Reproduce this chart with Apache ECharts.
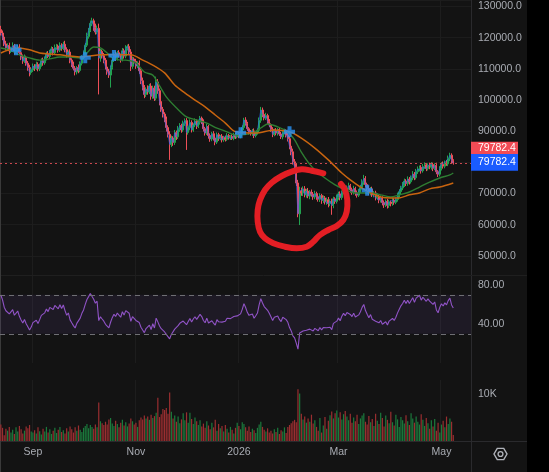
<!DOCTYPE html>
<html>
<head>
<meta charset="utf-8">
<script src="https://cdn.jsdelivr.net/npm/echarts@6/dist/echarts.min.js"></script>
<style>
  html, body { margin: 0; padding: 0; background: #000; }
  #chart { width: 527px; height: 472px; background: #131313; }
</style>
</head>
<body>
<div id="chart"></div>
<script>
// daily candles, prices in thousands, first day = 2025-08-13
const firstOpen = 122.6;
const closes = [
  121.5,120.2,118.0,116.8,117.5,115.8,116.6,117.4,115.5,116.2,117.0,115.2,113.8,112.5,113.6,111.8,110.4,108.8,109.6,110.9,
  110.2,111.4,110.0,111.2,112.6,111.9,113.4,114.8,114.0,115.6,116.4,115.2,116.8,117.3,116.0,117.6,116.5,117.9,116.2,114.6,
  115.4,112.8,111.5,110.2,109.0,110.4,109.5,111.8,113.6,115.0,117.6,120.4,122.3,124.6,125.4,123.2,121.8,123.0,113.5,115.6,
  114.2,112.8,110.6,109.2,108.0,110.5,112.8,114.6,113.4,115.2,114.4,113.0,115.8,114.1,116.5,117.2,115.4,110.8,113.2,112.4,
  110.9,111.8,109.4,106.2,104.0,101.8,103.5,102.6,104.5,101.2,103.8,100.6,105.8,103.0,99.5,97.0,95.5,93.8,91.2,89.0,
  85.8,87.8,86.4,89.5,88.2,90.6,91.8,90.4,92.5,93.4,89.6,91.2,92.8,90.4,92.0,93.2,91.6,92.9,94.2,93.0,
  90.8,89.4,91.5,88.6,87.5,89.2,87.8,86.5,88.9,87.6,88.4,87.2,88.0,87.4,88.6,87.9,88.3,87.7,88.9,88.2,
  89.0,88.4,89.6,91.2,93.6,92.4,90.8,89.7,89.2,90.1,88.6,89.4,90.3,93.5,96.8,95.4,94.2,95.0,93.1,92.0,
  90.6,89.0,90.2,89.4,90.5,89.1,88.2,89.6,90.0,88.7,87.6,85.2,83.4,80.2,78.6,73.4,63.5,70.8,70.2,71.5,
  69.6,70.8,69.2,70.5,69.8,68.9,70.0,69.0,68.2,69.4,67.8,68.6,67.4,68.0,66.8,67.6,66.2,68.3,67.5,68.8,
  69.9,68.7,70.4,71.5,70.6,71.8,72.5,71.2,70.4,71.6,70.2,69.5,70.8,71.9,73.6,74.8,72.9,71.6,70.3,71.4,
  69.6,70.2,68.7,69.2,67.9,68.6,67.1,66.4,67.5,66.2,67.3,66.8,67.9,67.2,68.1,69.4,70.6,71.8,72.7,74.0,
  73.2,74.6,73.8,75.0,76.2,75.1,77.0,77.9,78.4,77.3,78.6,79.2,78.0,79.0,78.5,79.3,78.1,79.0,77.0,76.2,
  78.0,79.4,78.8,80.0,79.5,81.2,82.3,80.6,79.7824
];
// wick above the body / below the body, thousands
const upperWick = [
  1.2,0.8,0.6,1.0,0.7,0.9,0.5,1.1,0.6,0.8,0.7,0.9,0.5,0.8,1.0,0.6,0.7,0.9,0.5,0.8,
  0.6,0.9,0.7,0.5,0.8,1.0,0.6,0.7,0.9,0.5,0.8,0.6,1.0,0.7,0.5,0.9,0.6,0.8,1.1,0.7,
  0.5,0.9,0.6,0.8,0.7,0.5,1.0,0.6,0.8,0.9,0.7,1.2,0.8,0.9,1.0,0.7,1.3,0.9,1.5,0.8,
  0.6,0.9,0.7,0.5,0.8,0.6,0.9,0.7,1.0,0.6,0.8,0.5,0.9,0.7,1.1,0.6,0.8,0.9,0.7,0.5,
  0.8,0.6,0.9,0.7,1.0,0.8,0.6,1.2,0.7,0.9,0.8,0.8,1.7,0.9,0.7,1.0,0.8,0.6,0.9,0.7,
  1.0,0.8,0.6,0.9,0.7,1.1,0.8,0.6,0.9,0.7,0.8,0.6,1.0,0.7,0.5,0.9,0.6,0.8,0.7,0.5,
  0.8,0.6,0.9,0.5,0.7,0.6,0.8,0.5,0.7,0.6,0.4,0.7,0.5,0.6,0.8,0.5,0.4,0.7,0.6,0.5,
  0.6,0.8,0.5,0.7,0.7,0.9,0.6,0.5,0.7,0.6,0.8,0.5,0.6,0.9,1.0,0.8,0.7,0.9,0.6,0.8,
  0.5,0.7,0.6,0.8,0.5,0.6,0.7,0.5,0.8,0.6,0.7,0.9,0.8,1.0,0.9,1.2,1.0,1.4,1.1,0.8,
  0.9,0.7,1.0,0.6,0.8,0.7,0.9,0.6,0.8,0.7,0.5,0.8,0.6,0.7,0.9,0.6,0.8,0.7,0.5,0.9,
  0.7,0.8,0.6,0.9,0.7,0.8,1.0,0.6,0.7,0.9,0.6,0.8,0.7,0.9,1.0,1.2,0.8,0.6,0.9,0.7,
  0.8,0.6,0.7,0.9,0.6,0.8,0.5,0.7,0.6,0.8,0.7,0.5,0.8,0.6,0.7,0.9,0.8,0.7,1.0,0.8,
  0.6,0.9,0.7,0.8,1.0,0.7,0.9,0.8,0.6,0.7,0.9,0.8,0.6,0.7,0.9,0.8,0.6,0.7,0.9,0.5,
  0.8,0.7,0.9,0.6,0.8,1.0,0.8,0.6,0.4
];
const lowerWick = [
  0.8,1.0,0.7,0.9,0.6,1.1,0.7,0.5,0.9,0.6,0.8,0.7,1.0,0.9,0.6,0.8,1.0,1.2,0.7,0.6,
  0.9,0.6,0.8,0.7,0.5,0.9,0.6,0.7,0.5,0.8,0.6,0.9,0.5,0.7,0.8,0.6,0.7,0.5,0.9,1.0,
  0.8,1.0,0.9,0.7,1.1,0.8,0.9,0.6,0.7,0.5,0.8,0.6,0.7,0.5,0.9,1.0,0.8,0.7,11.7,1.2,
  0.9,1.0,0.8,1.1,0.9,4.0,0.7,0.6,0.9,0.7,0.8,1.0,0.6,0.8,0.7,0.6,0.9,1.5,0.8,0.7,
  0.9,0.7,1.0,1.1,0.9,1.2,0.8,0.9,0.7,1.1,0.8,0.9,0.7,1.0,1.2,0.8,1.1,0.9,1.3,1.0,
  5.0,0.9,1.1,0.8,1.0,0.7,0.8,0.9,0.6,0.8,5.6,0.7,0.9,0.8,0.6,0.7,0.9,0.6,0.8,0.7,
  0.9,0.8,0.6,1.0,0.9,0.7,0.8,1.0,0.6,0.7,0.5,0.8,0.6,0.7,0.5,0.6,0.7,0.5,0.6,0.7,
  0.5,0.6,0.7,0.5,0.8,0.6,0.7,0.8,0.6,0.7,0.8,0.6,0.5,0.7,0.8,0.9,0.7,0.6,0.8,0.7,
  0.8,0.9,0.6,0.7,0.8,0.6,0.7,0.8,0.6,0.7,0.9,1.0,1.1,0.9,1.2,1.0,1.1,3.6,0.9,1.0,
  0.8,0.9,0.7,1.0,0.8,0.9,0.7,1.0,0.8,0.9,1.1,0.8,0.9,1.0,1.2,0.8,3.0,0.9,0.8,0.7,
  0.8,0.9,0.7,0.6,0.8,0.7,0.6,0.9,0.8,0.7,0.9,0.8,0.6,0.7,0.6,0.8,0.9,0.7,0.8,0.9,
  0.7,0.8,0.9,0.7,1.0,0.8,0.9,1.0,0.7,1.0,0.8,0.9,0.7,0.8,0.6,0.7,0.6,0.8,0.7,0.6,
  0.8,0.7,0.9,0.6,0.7,0.8,0.6,0.7,0.8,0.9,0.6,0.7,0.8,0.6,0.7,0.8,0.9,0.6,0.8,0.9,
  0.7,0.6,0.8,0.7,0.6,0.7,0.8,0.9,0.5
];
// volume in K
const volumes = [
  3.5,2.8,1.2,2.6,2.2,3.0,1.8,2.4,1.5,2.9,2.0,3.2,2.5,1.6,2.2,3.1,2.7,3.4,2.0,1.8,
  2.3,1.6,2.9,2.1,1.4,2.6,2.0,3.0,1.8,2.5,1.5,2.2,2.8,1.7,2.4,3.0,1.9,2.3,1.6,2.7,
  2.0,3.1,2.5,1.8,2.9,2.2,3.3,2.4,1.9,2.8,3.2,3.6,2.7,3.4,3.0,2.6,3.5,2.9,8.2,4.2,
  3.8,3.4,4.1,3.5,4.6,4.9,3.7,3.2,4.3,3.6,2.9,3.9,4.5,3.3,4.0,3.1,3.7,4.8,4.2,3.5,
  3.9,3.0,4.4,5.0,4.6,5.4,4.8,5.2,4.5,5.6,4.9,5.3,6.0,9.2,5.1,5.7,6.8,6.6,7.0,5.8,
  10.3,6.2,4.8,5.4,4.1,5.2,3.8,4.6,5.9,4.4,6.1,3.9,6.0,4.7,3.6,5.0,4.2,3.4,4.4,3.1,
  3.7,2.8,4.2,3.3,2.5,3.9,2.9,4.5,2.2,3.6,2.7,3.2,2.0,3.4,2.6,1.8,3.0,2.4,1.6,2.8,
  3.9,3.2,2.5,4.0,3.6,2.9,2.2,3.1,1.9,2.6,2.3,1.7,2.8,3.5,4.1,3.0,2.4,2.0,2.7,1.8,
  2.2,1.6,2.5,1.9,2.8,1.5,2.3,2.0,2.9,1.7,3.0,3.4,3.8,4.2,4.5,4.0,11.0,10.1,5.8,4.6,
  5.2,3.9,4.8,4.1,5.6,3.7,4.4,3.0,2.2,4.9,1.8,3.3,5.1,2.6,4.3,5.5,6.3,4.8,5.9,6.5,
  5.0,6.1,4.6,5.7,6.4,5.2,4.4,5.8,3.9,5.0,4.2,5.6,3.6,4.8,5.4,5.9,4.1,3.5,5.3,4.0,
  4.7,3.2,5.8,4.3,3.6,6.0,4.9,3.1,5.4,4.5,3.8,6.2,4.0,3.3,5.6,4.6,3.0,5.1,4.4,3.7,
  5.5,4.2,3.4,5.9,4.8,3.9,5.2,4.1,3.5,5.7,4.5,3.2,4.9,3.8,2.6,4.4,3.1,4.7,2.2,3.9,
  1.8,3.5,4.3,2.9,5.2,3.6,4.8,4.1,1.3
];
// moving averages (day index, thousands)
const greenIdx = [0,5,11,17,23,29,35,41,47,51,55,59,63,66,71,74,80,85,90,93,98,104,110,116,122,128,134,139,149,155,
  158,164,170,174,178,182,186,192,198,204,210,219,225,231,236,242,248,254,260,266,268];
const greenVal = [116.7,116.1,114.5,113.5,112.8,113.2,113.8,113.8,113.5,115.1,117.0,116.7,115.1,113.5,112.8,112.8,111.9,109.0,108.0,105.5,
  101.0,97.5,94.6,93.6,92.6,91.0,89.8,88.8,89.4,91.4,92.3,91.4,89.8,87.2,83.3,80.1,77.6,75.0,72.8,71.2,
  70.2,70.2,69.6,68.9,69.6,70.5,72.1,73.7,75.0,76.0,76.6];
const orangeIdx = [0,5,11,17,23,29,35,41,47,53,59,65,71,77,84,90,97,103,109,115,121,127,133,139,151,162,171,178,186,194,
  202,207,213,219,225,231,236,242,248,254,260,268];
const orangeVal = [115.1,116.1,116.7,116.1,115.1,114.8,114.5,114.1,113.8,114.1,114.5,114.5,114.5,114.5,112.8,111.2,108.7,104.8,102.3,100.0,
  97.8,95.2,92.6,89.8,89.4,90.4,89.8,87.8,84.6,80.8,76.6,74.4,72.1,70.2,68.9,68.6,68.6,69.6,70.2,71.5,72.1,73.4];
// blue cross signals
const crossIdx = [9, 50, 67, 142, 171, 217];
const crossVal = [116.1, 113.6, 114.3, 89.5, 89.8, 71.1];
// RSI(14) starting state
const rsiSeedGain = 0.9, rsiSeedLoss = 0.39;

const tickDates = ['2025-09-01', '2025-11-01', '2026-01-01', '2026-03-01', '2026-05-01'];
const tickLabels = ['Sep', 'Nov', '2026', 'Mar', 'May'];

const dates = [];
const startMs = Date.UTC(2025, 7, 13);
for (let i = 0; i < 279; i++) dates.push(new Date(startMs + i * 864e5).toISOString().slice(0, 10));

const opens = closes.map((c, i) => i ? closes[i - 1] : firstOpen); // 24h market: open = prior close
const candles = closes.map((c, i) => {
    const o = opens[i];
    return [o * 1000, c * 1000, (Math.min(o, c) - lowerWick[i]) * 1000, (Math.max(o, c) + upperWick[i]) * 1000];
});
const rsi = [];
let ag = rsiSeedGain, al = rsiSeedLoss;
closes.forEach((c, i) => {
    if (i) {
        const d = c - closes[i - 1];
        ag = (ag * 13 + Math.max(d, 0)) / 14;
        al = (al * 13 + Math.max(-d, 0)) / 14;
    }
    rsi.push(+(100 - 100 / (1 + ag / al)).toFixed(2));
});
const lastPrice = closes[closes.length - 1] * 1000;

const upC = '#22a24f', downC = '#ee4f58';
const txt = '#a9acb3', font = 'Liberation Sans';
const isTick = (i, v) => tickDates.indexOf(v) >= 0;

function xAx(gi, labels) {
    return {
        type: 'category', gridIndex: gi, data: dates, boundaryGap: true,
        axisLine: {show: false}, axisTick: {show: false},
        axisLabel: {show: labels, interval: isTick, formatter: v => tickLabels[tickDates.indexOf(v)] || '',
            color: txt, fontSize: 10.5, fontFamily: font, margin: 6},
        splitLine: {show: true, interval: isTick, lineStyle: {color: '#1d1d1d'}}
    };
}

const chart = echarts.init(document.getElementById('chart'), null, {renderer: 'canvas'});
const gridLine = '#1c1c1c';
chart.setOption({
    animation: false,
    grid: [
        {left: 0, right: 56, top: 0, height: 287.1},
        {left: 0, right: 56, top: 265.5, height: 97.5},
        {left: 0, right: 56, bottom: 31, height: 61.1}
    ],
    xAxis: [xAx(0, false), xAx(1, false), xAx(2, true)],
    yAxis: [{
        type: 'value', gridIndex: 0, position: 'right', min: 40000, max: 132085, interval: 10000,
        axisLine: {show: false}, axisTick: {show: false},
        axisLabel: {color: txt, fontSize: 10.5, fontFamily: font, margin: 7,
            formatter: v => (v >= 50000 && v <= 130000) ? v.toFixed(1) : ''},
        splitLine: {lineStyle: {color: ['rgba(0,0,0,0)', gridLine, gridLine, gridLine, gridLine, gridLine,
                    gridLine, gridLine, gridLine, gridLine, gridLine, gridLine]}}
    }, {
        type: 'value', gridIndex: 1, position: 'right', min: 0, max: 100, interval: 40,
        axisLine: {show: false}, axisTick: {show: false}, splitLine: {show: false},
        axisLabel: {color: txt, fontSize: 10.5, fontFamily: font, margin: 7,
            formatter: v => (v === 40 || v === 80) ? v.toFixed(2) : ''}
    }, {
        type: 'value', gridIndex: 2, position: 'right', min: 0, max: 13, interval: 10,
        axisLine: {show: false}, axisTick: {show: false}, splitLine: {show: false},
        axisLabel: {color: txt, fontSize: 10.5, fontFamily: font, margin: 7,
            formatter: v => v === 10 ? '10K' : ''}
    }],
    series: [{
        type: 'candlestick', xAxisIndex: 0, yAxisIndex: 0, data: candles, barWidth: 1.5, z: 2,
        itemStyle: {color: upC, color0: downC, borderColor: upC, borderColor0: downC, borderWidth: 1},
        markLine: {
            silent: true, symbol: ['none', 'none'], label: {show: false},
            lineStyle: {color: '#c9474e', type: [2, 3], width: 1},
            data: [{yAxis: lastPrice}]
        }
    }, {
        type: 'line', xAxisIndex: 0, yAxisIndex: 0, data: closes.map(c => c * 1000), showSymbol: false,
        lineStyle: {color: '#2962ff', width: 1, opacity: 0.6}, z: 3
    }, {
        type: 'line', xAxisIndex: 0, yAxisIndex: 0, smooth: 0.3, showSymbol: false, z: 4,
        data: greenIdx.map((d, i) => [d, greenVal[i] * 1000]),
        lineStyle: {color: '#2e7d32', width: 1.4}
    }, {
        type: 'line', xAxisIndex: 0, yAxisIndex: 0, smooth: 0.3, showSymbol: false, z: 4,
        data: orangeIdx.map((d, i) => [d, orangeVal[i] * 1000]),
        lineStyle: {color: '#c8640f', width: 1.5}
    }, {
        type: 'scatter', xAxisIndex: 0, yAxisIndex: 0, z: 6,
        symbol: 'path://M3.5,0H7.5V3.5H11V7.5H7.5V11H3.5V7.5H0V3.5H3.5Z', symbolSize: 11,
        itemStyle: {color: '#2892f5'},
        data: crossIdx.map((d, i) => [d, crossVal[i] * 1000])
    }, {
        type: 'line', xAxisIndex: 1, yAxisIndex: 1, data: rsi, showSymbol: false,
        lineStyle: {color: '#9154c7', width: 1.1},
        markArea: {silent: true, itemStyle: {color: 'rgba(126,87,194,0.1)'},
            data: [[{yAxis: 70}, {yAxis: 30}]]},
        markLine: {silent: true, symbol: ['none', 'none'], label: {show: false},
            lineStyle: {color: '#6f6f74', type: [5, 4], width: 1},
            data: [{yAxis: 70}, {yAxis: 30}]}
    }, {
        type: 'bar', xAxisIndex: 2, yAxisIndex: 2, barWidth: 1.2,
        data: volumes.map((v, i) => ({value: v, itemStyle: {color: closes[i] >= opens[i] ? '#1b7a3c' : '#9a2e30'}}))
    }]
});

// price tags, frame lines, settings icon and the hand-drawn loop
const yLast = chart.convertToPixel({yAxisIndex: 0}, lastPrice);
const tag = lastPrice.toFixed(1);
const line = (x1, y1, x2, y2, c) => ({type: 'line', silent: true, shape: {x1, y1, x2, y2}, style: {stroke: c, lineWidth: 1}});
chart.setOption({
    graphic: [
        line(471.5, 0, 471.5, 472, '#2a2a2d'),
        line(0, 441.5, 527, 441.5, '#2a2a2d'),
        line(0, 275.5, 527, 275.5, '#1f1f1f'),
        line(0.5, 0, 0.5, 472, '#3a3a3a'),
        {type: 'rect', z: 50, shape: {x: 471, y: yLast - 21.3, width: 47, height: 12.3}, style: {fill: '#f24b55'}},
        {type: 'text', z: 51, style: {x: 478, y: yLast - 15, text: tag, fill: '#fff', font: '10.5px Liberation Sans', verticalAlign: 'middle'}},
        {type: 'rect', z: 50, shape: {x: 471, y: yLast - 9, width: 47, height: 16.7}, style: {fill: '#1a5cff'}},
        {type: 'text', z: 51, style: {x: 478, y: yLast - 1.2, text: tag, fill: '#fff', font: '10.5px Liberation Sans', verticalAlign: 'middle'}},
        {type: 'group', x: 500.5, y: 454, silent: true, children: [
            {type: 'polygon', shape: {points: [[6.5, 0], [3.25, 5.6], [-3.25, 5.6], [-6.5, 0], [-3.25, -5.6], [3.25, -5.6]]},
                style: {fill: 'none', stroke: '#b0b3ba', lineWidth: 1.4}},
            {type: 'circle', shape: {cx: 0, cy: 0, r: 2.4}, style: {fill: 'none', stroke: '#b0b3ba', lineWidth: 1.4}}
        ]},
        {type: 'polyline', z: 100, silent: true,
            shape: {smooth: 0.4, points: [[323.3, 173.3], [311.7, 170.7], [301.7, 169.3], [291.7, 171.7], [281.7, 176], [271.7, 182.7],
                    [265, 190], [260, 200], [257.7, 210], [257.7, 221.7], [260, 231.7], [265, 238.3], [273.3, 243.3], [285, 246.7],
                    [296.7, 248.3], [306.7, 246.7], [313.3, 241.7], [320, 235], [328.3, 230], [336.7, 226], [343.3, 220],
                    [346.7, 211.7], [347.3, 200], [345, 190], [341, 184]]},
            style: {stroke: '#e31e24', lineWidth: 6, fill: 'none', lineCap: 'round', lineJoin: 'round'}}
    ]
});
</script>
</body>
</html>
